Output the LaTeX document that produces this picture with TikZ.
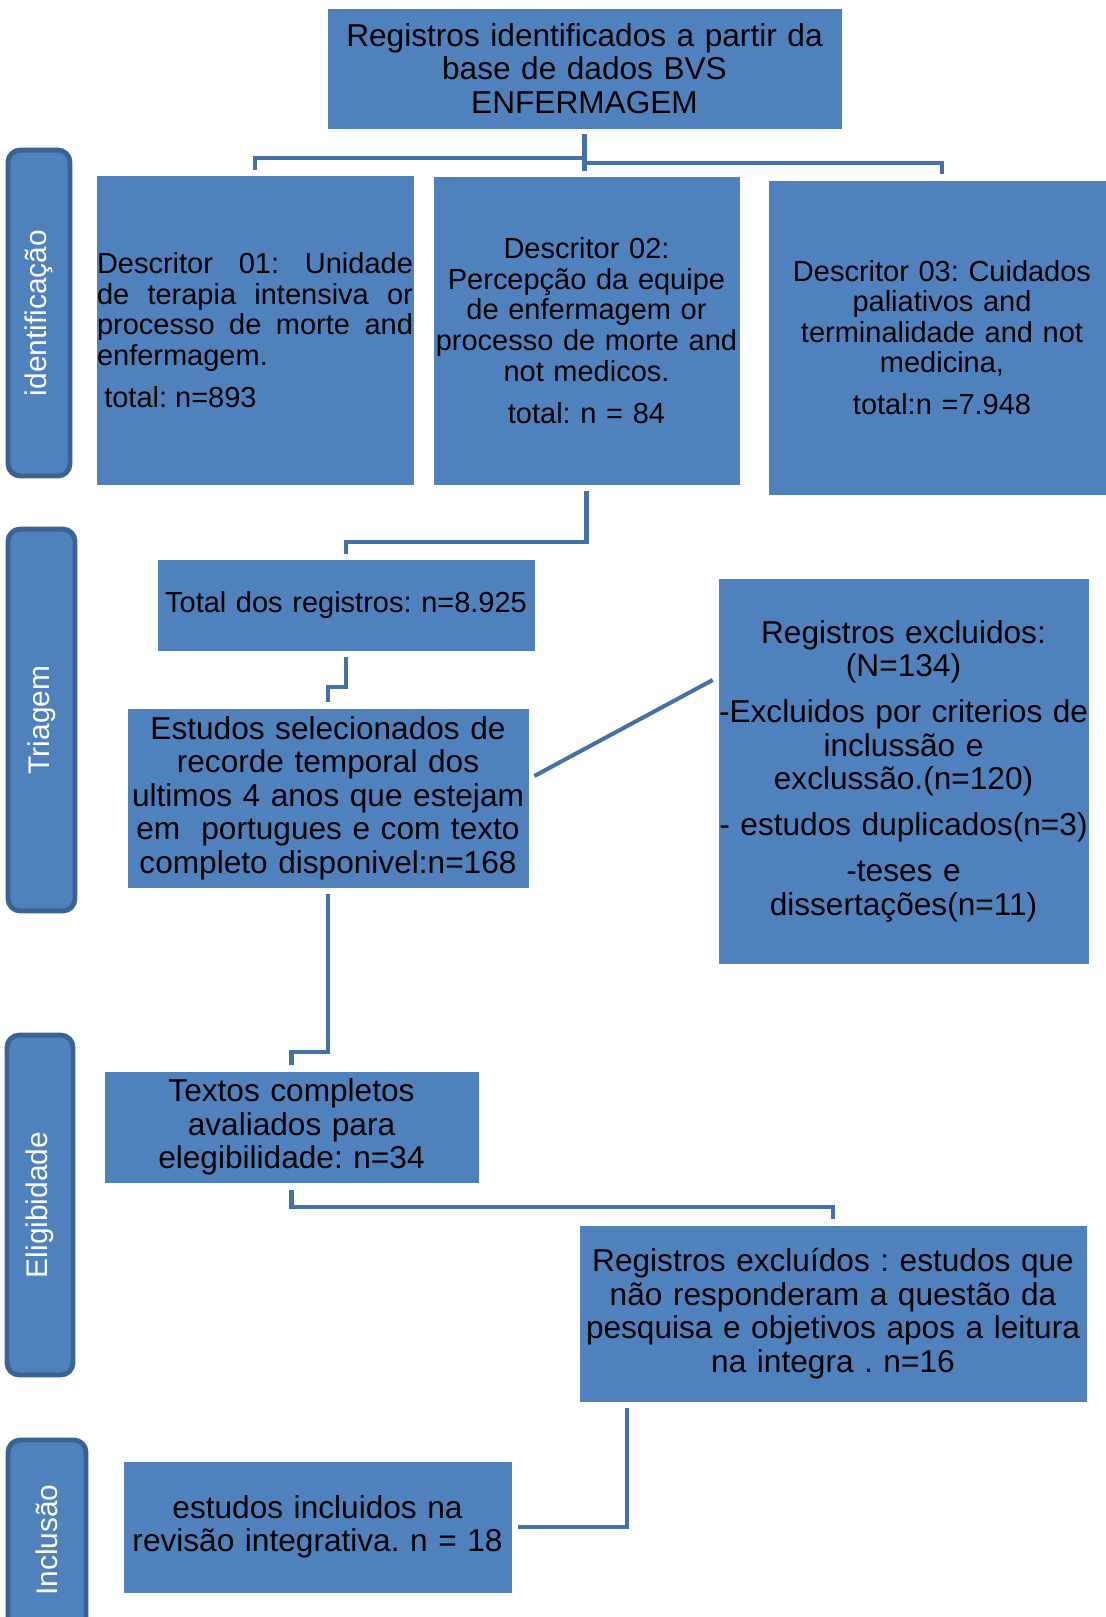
\documentclass[tikz,border=0pt]{standalone}
\usepackage{fontspec}
\setmainfont{Liberation Sans}
\usepackage{xcolor}
\usepackage{tikz}
\usetikzlibrary{positioning,calc}
\definecolor{fxBlue}{HTML}{4F81BD}
\definecolor{fxEdge}{HTML}{3B6391}
\definecolor{fxLine}{HTML}{4472A8}

\begin{document}
\frenchspacing
\begin{tikzpicture}[
  x=0.02cm, y=-0.02cm,
  caixa/.style={fill=fxBlue, draw=fxBlue, line width=0.4pt, inner sep=0pt, align=center,
                text=black, font=\fontsize{18}{19.1}\selectfont},
  descr/.style={caixa, font=\fontsize{16.5}{17.4}\selectfont},
  faixa/.style={fill=fxBlue, draw=fxEdge, line width=2.8pt, rounded corners=7pt, inner sep=0pt,
                text=white, font=\fontsize{17}{20}\selectfont},
  linha/.style={fxLine, line width=2.3pt}
]
\useasboundingbox (0,0) rectangle (1106,1617);
\clip (0,0) rectangle (1106,1617);

\node[faixa, minimum width=1.24cm, minimum height=6.52cm] (fId) at (39,313)
  {\rotatebox{90}{identificação}};
\node[faixa, minimum width=1.34cm, minimum height=7.64cm] (fTri) at (41.5,720)
  {\rotatebox{90}{Triagem}};
\node[faixa, minimum width=1.32cm, minimum height=6.8cm] (fEle) at (40,1205)
  {\rotatebox{90}{Eligibidade}};
\node[faixa, minimum width=1.56cm, minimum height=4.0cm] (fInc) at (47,1540)
  {\rotatebox{90}{Inclusão}};

\node[caixa, minimum width=10.26cm, minimum height=2.38cm, text width=10.26cm] (top) at (584.5,68.5)
  {Registros identificados a partir da\\base de dados BVS\\ENFERMAGEM};
\node[descr, minimum width=6.32cm, minimum height=6.16cm, text width=6.32cm, align=justify] (d1) at (255,330)
  {Descritor 01: Unidade\linebreak de terapia intensiva or\linebreak processo de morte and\linebreak
   enfermagem.\\[6.5pt]\hspace*{0.25em}total: n=893};
\node[descr, minimum width=6.1cm, minimum height=6.14cm, text width=6.1cm] (d2) at (586.5,330.5)
  {Descritor 02:\\Percepção da equipe\\de enfermagem or\\processo de morte and\\not medicos.\\[6.5pt]total: n = 84};
\node[descr, minimum width=6.92cm, minimum height=6.26cm, text width=6.92cm] (d3) at (942,337.5)
  {Descritor 03: Cuidados\\paliativos and\\terminalidade and not\\medicina,\\[6.5pt]total:n =7.948};

\node[descr, minimum width=7.52cm, minimum height=1.8cm, text width=7.52cm] (total) at (346,605)
  {Total dos registros: n=8.925};
\node[caixa, minimum width=8cm, minimum height=3.56cm, text width=8cm] (estudos) at (328,798)
  {Estudos selecionados de\\recorde temporal dos\\ultimos 4 anos que estejam\\em\ \ portugues e com texto\\completo disponivel:n=168};
\node[caixa, minimum width=7.38cm, minimum height=7.68cm, text width=7.38cm] (excl1) at (903.5,771)
  {Registros excluidos:\\(N=134)\\[7pt]\mbox{-Excluidos por criterios de}\\inclussão e\\exclussão.(n=120)\\[7pt]\mbox{- estudos duplicados(n=3)}\\[7pt]-teses e\\dissertações(n=11)};

\node[caixa, minimum width=7.46cm, minimum height=2.2cm, text width=7.46cm] (textos) at (291.5,1127)
  {Textos completos\\avaliados para\\elegibilidade: n=34};
\node[caixa, minimum width=10.12cm, minimum height=3.5cm, text width=10.12cm] (excl2) at (833,1313.5)
  {Registros excluídos : estudos que\\não responderam a questão da\\pesquisa e objetivos apos a leitura\\na integra . n=16};
\node[caixa, minimum width=7.74cm, minimum height=2.6cm, text width=7.74cm] (incl) at (317.5,1527)
  {estudos incluidos na\\revisão integrativa. n = 18};

\draw[linha, shorten <=0.12cm, shorten >=0.12cm] (top.south) -- ++(0,30) -| (d1.north);
\draw[linha, shorten <=0.12cm, shorten >=0.14cm] (top.south) -- ++(0,35) -| (d3.north);
\draw[linha, shorten <=0.12cm, shorten >=0.12cm] (top.south) -- (top.south |- d2.north);
\draw[linha, shorten <=0.14cm, shorten >=0.12cm] (d2.south) -- ++(0,58) -| (total.north);
\draw[linha, shorten <=0.14cm, shorten >=0.14cm] (total.south) -- ++(0,37) -| (estudos.north);
\draw[linha] ($(estudos.east)+(6,-22)$) -- ($(excl1.west)+(-6,-91)$);
\draw[linha, shorten <=0.14cm, shorten >=0.14cm] (estudos.south) -- ++(0,165) -| (textos.north);
\draw[linha, shorten <=0.16cm, shorten >=0.14cm] (textos.south) -- ++(0,25) -| (excl2.north);
\draw[linha, shorten <=0.14cm, shorten >=0.14cm] ($(excl2.south)+(-206,0)$) |- (incl.east);

\end{tikzpicture}
\end{document}
